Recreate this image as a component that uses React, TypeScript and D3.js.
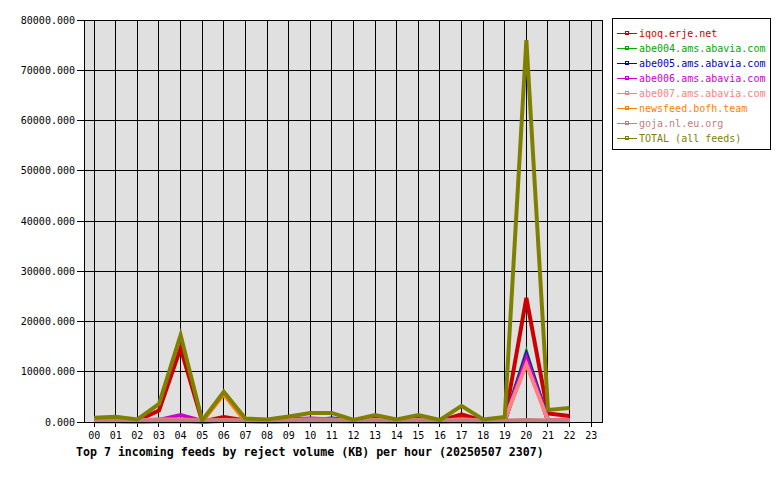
import React from "react";
import * as d3 from "d3";

const hours = ["00","01","02","03","04","05","06","07","08","09","10","11","12","13","14","15","16","17","18","19","20","21","22","23"];
const yTicks = [0, 10000, 20000, 30000, 40000, 50000, 60000, 70000, 80000];

const seriesNames = ["iqoq.erje.net","abe004.ams.abavia.com","abe005.ams.abavia.com","abe006.ams.abavia.com","abe007.ams.abavia.com","newsfeed.bofh.team","goja.nl.eu.org","TOTAL (all feeds)"];
const seriesColors = ["#cc0000","#00aa00","#0000cc","#cc00cc","#ff8080","#ff8000","#c08080","#808000"];

const iqoq = [400,600,300,2300,14700,100,1000,300,200,800,500,500,200,700,200,700,200,1500,200,400,24700,1700,1200];
const abe004 = [500,300,200,500,300,100,300,200,200,300,300,300,200,300,200,300,200,600,200,300,13800,300,300];
const abe005 = [200,200,100,200,300,100,200,200,100,200,300,700,200,200,100,200,100,300,100,200,13300,300,200];
const abe006 = [300,300,200,400,1400,200,300,200,200,500,700,500,200,400,200,400,200,600,200,300,12800,300,500];
const abe007 = [400,400,300,500,500,300,400,300,300,400,500,500,300,400,300,400,300,500,300,500,11500,400,300];
const newsfeed = [100,100,50,100,100,50,5500,100,50,100,100,100,50,100,50,100,50,100,50,100,200,100,100];
const goja = [300,300,300,300,300,300,300,300,300,300,400,400,300,300,300,300,300,300,300,300,400,300,300];
const total = [850,1050,500,3600,17300,300,6000,700,500,1100,1800,1800,400,1400,500,1400,400,3200,500,1000,76000,2400,2800];

const seriesData = [iqoq, abe004, abe005, abe006, abe007, newsfeed, goja, total];

const W = 780, H = 480;
const left = 84, right = 602, top = 20, bottom = 422;
const font = "'DejaVu Sans Mono', monospace";

export default function App() {
  const x = d3.scaleLinear().domain([-0.47, 23.5]).range([left, right]);
  const y = d3.scaleLinear().domain([0, 80000]).range([bottom, top]);
  const line = d3.line<number>().x((_, i) => x(i)).y((d) => y(d));

  return (
    <svg width={W} height={H} style={{ position: "absolute", left: 0, top: 0, background: "#fff" }}>
      <rect x={0} y={0} width={W} height={H} fill="#fff" />
      <rect x={left} y={top} width={right - left} height={bottom - top} fill="#e0e0e0" />
      {hours.map((h, i) => (
        <g key={h}>
          <line x1={x(i)} x2={x(i)} y1={top} y2={bottom + 5} stroke="#000" strokeWidth={1} shapeRendering="crispEdges" />
          <text x={x(i)} y={439} textAnchor="middle" fontFamily={font} fontSize={10} fill="#000">{h}</text>
        </g>
      ))}
      {yTicks.map((t) => (
        <g key={t}>
          <line x1={left - 7} x2={right} y1={y(t)} y2={y(t)} stroke="#000" strokeWidth={1} shapeRendering="crispEdges" />
          <text x={75} y={y(t)} dy="0.35em" textAnchor="end" fontFamily={font} fontSize={10} fill="#000">{d3.format(".3f")(t)}</text>
        </g>
      ))}
      {seriesData.map((d, i) => (
        <path key={seriesNames[i]} d={line(d) || ""} fill="none" stroke={seriesColors[i]} strokeWidth={4} strokeLinejoin="miter" />
      ))}
      <rect x={left} y={top} width={right - left} height={bottom - top} fill="none" stroke="#000" strokeWidth={1} shapeRendering="crispEdges" />
      <rect x={612.5} y={18.5} width={158} height={131} fill="#fff" stroke="#000" strokeWidth={1} />
      {seriesNames.map((n, i) => {
        const ly = 33 + i * 15;
        return (
          <g key={n}>
            <line x1={617} x2={637} y1={ly} y2={ly} stroke={seriesColors[i]} strokeWidth={1} shapeRendering="crispEdges" />
            <rect x={625} y={ly - 2} width={3} height={3} fill="none" stroke={seriesColors[i]} strokeWidth={1} shapeRendering="crispEdges" />
            <text x={639} y={ly} dy="0.35em" fontFamily={font} fontSize={10} fill={seriesColors[i]}>{n}</text>
          </g>
        );
      })}
      <text x={76} y={456} fontFamily={font} fontSize={11.6} fontWeight="bold" fill="#000">
        Top 7 incoming feeds by reject volume (KB) per hour (20250507 2307)
      </text>
    </svg>
  );
}
